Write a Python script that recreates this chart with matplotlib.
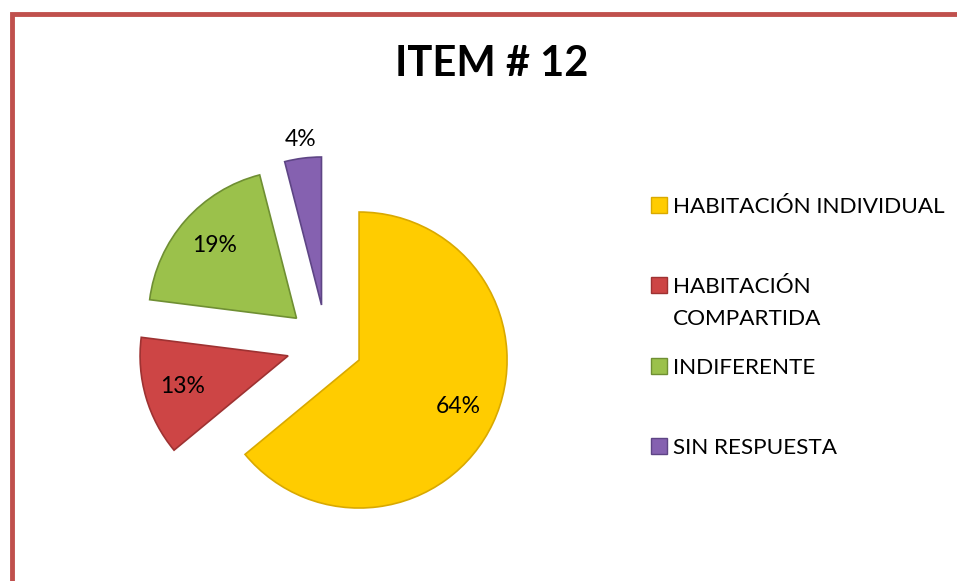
import matplotlib
matplotlib.use('Agg')
from matplotlib import pyplot as plt
from matplotlib.patches import Rectangle
import numpy as np

# data
categorias = ['HABITACIÓN INDIVIDUAL', 'HABITACIÓN\nCOMPARTIDA', 'INDIFERENTE', 'SIN RESPUESTA']
porcentajes = [64, 13, 19, 4]
colores = ['#FFCC00', '#CD4545', '#9BC14B', '#8561B0']
bordes = ['#D9A900', '#9E3232', '#6F8F33', '#5E4585']
titulo = 'ITEM # 12'

W, H = 957, 581
plt.rcParams['font.family'] = ['Lato', 'DejaVu Sans']

fig = plt.figure(figsize=(W / 100, H / 100), dpi=100)
ax = fig.add_axes([0, 0, 1, 1])

# pie (pixel coords, y up)
radio = 148
wedges, texts, autotexts = ax.pie(
    porcentajes, colors=colores, startangle=90, counterclock=False,
    center=(326.5, H - 344.7), radius=radio,
    explode=[36, 40, 40, 40],
    autopct='%1.0f%%', pctdistance=0.74,
    wedgeprops=dict(linewidth=1.2),
    textprops=dict(fontsize=16.5, color='black'))
for w, c in zip(wedges, bordes):
    w.set_edgecolor(c)

# pie() changes the limits, so set them afterwards
ax.set_xlim(0, W)
ax.set_ylim(0, H)
ax.set_aspect('equal')
ax.axis('off')

# the small slice has its label outside
w = wedges[3]
ang = np.deg2rad((w.theta1 + w.theta2) / 2)
cx, cy = w.center
autotexts[3].set_position((cx + 1.13 * radio * np.cos(ang), cy + 1.13 * radio * np.sin(ang)))

ax.text(492, H - 64, titulo, fontsize=30, fontweight='bold', ha='center', va='center')

# legend
ys = [205, 285, 366, 446]
for nombre, col, borde, y in zip(categorias, colores, bordes, ys):
    ax.add_patch(Rectangle((651, H - y - 8), 16, 16, facecolor=col, edgecolor=borde, linewidth=1))
    ax.text(673, H - y + 8, nombre, fontsize=16.2, ha='left', va='top', linespacing=1.73)

# red frame, only top and left are inside the picture
ax.add_patch(Rectangle((12, -20), W + 40, H - 14 + 20, facecolor='none',
                       edgecolor='#C0504D', linewidth=3.5, clip_on=False))

fig.savefig('out.png', dpi=100)
